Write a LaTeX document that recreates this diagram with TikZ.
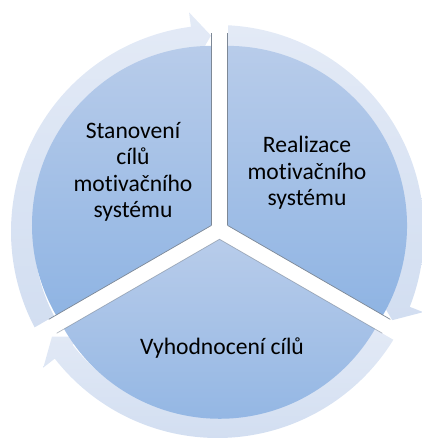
\documentclass[tikz,border=0pt]{standalone}
\usepackage{fontspec}
\setmainfont[Ligatures=NoCommon]{Carlito}
\usetikzlibrary{calc}
\definecolor{ringtop}{HTML}{E3EAF6}
\definecolor{ringbot}{HTML}{D2DEF1}
\definecolor{pietop}{HTML}{B8CCEA}
\definecolor{piebot}{HTML}{8FB4E3}
\definecolor{edgegray}{HTML}{7D8896}
\newcommand{\ringarrow}[3]{%
  \shade[ringseg] ($(Cr)+(#1:206.5)$) arc[start angle=#1, end angle=#2, radius=206.5]
    -- ($(Cr)+(#2:221)$) -- ($(Cr)+(#3:196)$) -- ($(Cr)+(#2:171)$)
    -- ($(Cr)+(#2:184)$) arc[start angle=#2, end angle=#1, radius=184] -- cycle;}
\begin{document}
\begin{tikzpicture}[x=1pt,y=1pt,
  ringseg/.style={top color=ringtop, bottom color=ringbot},
  sector/.style={top color=pietop, bottom color=piebot},
  gapline/.style={white, line width=16pt},
  edgeline/.style={edgegray, line width=0.7pt},
  label/.style={font=\fontsize{23.6}{26.5}\selectfont, align=center, text=black}]
\useasboundingbox (0,0) rectangle (421,439);
\coordinate (O) at (219.5,209);
\coordinate (Cr) at (217.5,207.5);
% ring arrows
\ringarrow{90.5}{-21.4}{-26.9}
\ringarrow{-31}{-142}{-147.6}
\ringarrow{209}{97.4}{91.9}
% gaps
\draw[gapline] (O) -- ++(90:240);
\draw[gapline] (O) -- ++(-30:240);
\draw[gapline] (O) -- ++(210:240);
% sectors
\coordinate (L) at ($(O)+(150:9.24)$);
\coordinate (R) at ($(O)+(30:9.24)$);
\coordinate (B) at ($(O)+(270:9.24)$);
\shade[sector] (L) -- ++(90:179.5) arc[start angle=90, end angle=210, radius=179.5] -- cycle;
\shade[sector] (R) -- ++(-30:179.5) arc[start angle=-30, end angle=90, radius=179.5] -- cycle;
\shade[sector] (B) -- ++(210:179.5) arc[start angle=210, end angle=330, radius=179.5] -- cycle;
% edges
\draw[edgeline] (L) -- ++(90:192);
\draw[edgeline] (L) -- ++(210:188);
\draw[edgeline] (R) -- ++(90:192);
\draw[edgeline] (R) -- ++(-30:188);
\draw[edgeline, opacity=0.6] (B) -- ++(-30:188);
\draw[edgeline, opacity=0.6] (B) -- ++(210:188);
% labels
\node[label] (t1) at (133,267) {Stanovení\\cílů\\motivačního\\systému};
\node[label] (t2) at (307,266) {Realizace\\motivačního\\systému};
\node[label] (t3) at (222,91) {Vyhodnocení cílů};
\end{tikzpicture}
\end{document}
